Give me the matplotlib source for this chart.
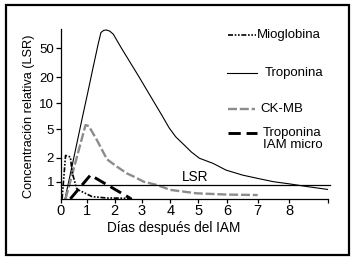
import numpy as np
import matplotlib
matplotlib.use("Agg")
import matplotlib.pyplot as plt
from matplotlib.lines import Line2D
from matplotlib.patches import Rectangle

plt.rcParams['font.family'] = ['Liberation Sans', 'DejaVu Sans']

# ---------------- data ----------------
mio_days = [0.06, 0.19, 0.37, 0.44, 0.60, 0.67, 1.18, 1.71, 2.70]
mio_vals = [0.61, 2.15, 2.05, 1.30, 0.83, 0.79, 0.65, 0.625, 0.62]

trop_days = [0.17, 0.50, 0.80, 1.00, 1.20, 1.40, 1.50, 1.60, 1.70, 1.82, 1.95,
             2.25, 2.90, 3.45, 3.70, 3.96, 4.20, 4.50, 4.75, 5.03, 5.50, 5.95,
             6.50, 7.00, 7.50, 8.00, 8.60, 9.22]
trop_vals = [0.61, 2.0, 6.4, 12.3, 25.5, 57, 82, 88, 89, 86, 78,
             50, 20, 10, 7.3, 5.2, 3.9, 3.0, 2.4, 1.97, 1.70, 1.4,
             1.21, 1.1, 1.0, 0.94, 0.865, 0.80]

ck_days = [0.19, 0.94, 1.06, 1.36, 1.72, 2.09, 2.45, 2.70, 3.06, 3.53, 4.00,
           4.94, 5.98, 7.00]
ck_vals = [0.61, 5.6, 5.45, 3.5, 1.91, 1.54, 1.27, 1.16, 1.0, 0.91, 0.79,
           0.715, 0.69, 0.68]

micro_days = [0.37, 1.12, 2.57]
micro_vals = [0.61, 1.21, 0.62]

lsr_value = 0.91

x_tick_values = [0, 1, 2, 3, 4, 5, 6, 7, 8]
x_tick_labels = ['0', '1', '2', '3', '4', '5', '6', '7', '8']
y_tick_values = [1, 2, 5, 10, 20, 50]
y_tick_labels = ['1', '2', '5', '10', '20', '50']

# ---------------- hand-drawn axis spacing (layout) ----------------
x_tick_pos = [0, 26.7, 54.3, 81.7, 110, 138.3, 167.3, 197.7, 229.3]
y_tick_pos = [0, 24, 52.4, 78.4, 104.4, 133.4]


def piecewise(ki, ko):
    ki = np.asarray(ki, float)
    ko = np.asarray(ko, float)
    s0 = (ko[1] - ko[0]) / (ki[1] - ki[0])
    s1 = (ko[-1] - ko[-2]) / (ki[-1] - ki[-2])

    def f(v):
        v = np.asarray(v, float)
        out = np.interp(v, ki, ko)
        out = np.where(v < ki[0], ko[0] + (v - ki[0]) * s0, out)
        out = np.where(v > ki[-1], ko[-1] + (v - ki[-1]) * s1, out)
        return out
    return f


xf = piecewise(x_tick_values, x_tick_pos)
xi = piecewise(x_tick_pos, x_tick_values)
ylog = np.log10(y_tick_values)
yf_ = piecewise(ylog, y_tick_pos)
yi_ = piecewise(y_tick_pos, ylog)


def yf(v):
    return yf_(np.log10(np.maximum(np.asarray(v, float), 1e-12)))


def yi(p):
    return 10 ** yi_(p)


W, H = 353, 259
fig = plt.figure(figsize=(W / 100, H / 100), dpi=100)
fig.patch.set_facecolor('white')

L, R, T, B = 60.5, 327.7, 29.3, 199.0
ax = fig.add_axes([L / W, 1 - B / H, (R - L) / W, (B - T) / H])
ax.set_xscale('function', functions=(xf, xi))
ax.set_yscale('function', functions=(yf, yi))
ax.set_xlim(0, 9.22)
ax.set_ylim(0.607, 91)

# curves
ax.plot(trop_days, trop_vals, color='black', lw=0.8, solid_joinstyle='round')
ln_ck, = ax.plot(ck_days, ck_vals, color='#8c8c8c', lw=1.7)
ln_ck.set_dashes((3.8, 1.2))
ln_mio, = ax.plot(mio_days, mio_vals, color='black', lw=1.2)
ln_mio.set_dashes((3, 1, 1, 1, 1, 1))
ln_mi, = ax.plot(micro_days, micro_vals, color='black', lw=2.1)
ln_mi.set_dashes((4.2, 2.0))

ax.axhline(lsr_value, color='black', lw=0.9, xmax=1.01, clip_on=False)
ax.annotate('LSR', xy=(4.87, lsr_value), xytext=(0, 0.5),
            textcoords='offset points', ha='center', va='bottom', fontsize=9.8)

# axes styling
for s in ['top', 'right']:
    ax.spines[s].set_visible(False)
for s in ['left', 'bottom']:
    ax.spines[s].set_linewidth(0.9)
ax.set_xticks(x_tick_values + [9.22])
ax.set_xticklabels(x_tick_labels + [''])
ax.set_yticks(y_tick_values)
ax.set_yticklabels(y_tick_labels)
ax.minorticks_off()
ax.tick_params(axis='x', length=3, width=0.9, pad=0.5, labelsize=10.5)
ax.tick_params(axis='y', length=3.6, width=0.9, pad=1, labelsize=9.5)
for t in ax.get_xticklabels():
    t.set_family(['Liberation Sans Narrow', 'Liberation Sans', 'DejaVu Sans'])

ax.set_xlabel('Días después del IAM', fontsize=9.8, va='center')
ax.xaxis.set_label_coords((173.5 - L) / (R - L), (B - 227.7) / (B - T))
ax.set_ylabel('Concentración relativa (LSR)', fontsize=9.2, va='center')
ax.yaxis.set_label_coords((29 - L) / (R - L), (B - 116) / (B - T))


# legend drawn in figure pixels
def fx(x):
    return x / W


def fy(y):
    return 1 - y / H


def handle(y, x0, x1, **kw):
    dashes = kw.pop('dashes', None)
    ln = Line2D([fx(x0), fx(x1)], [fy(y), fy(y)], transform=fig.transFigure, **kw)
    if dashes:
        ln.set_dashes(dashes)
    fig.add_artist(ln)


LFS = 9.5
handle(35, 228, 256, color='black', lw=1.2, dashes=(3, 1, 1, 1, 1, 1))
fig.text(fx(257), fy(35), 'Mioglobina', fontsize=LFS, va='center', ha='left')
handle(73, 227, 257, color='black', lw=0.8)
fig.text(fx(265), fy(73), 'Troponina', fontsize=LFS, va='center', ha='left')
handle(109, 228, 255, color='#8c8c8c', lw=1.7, dashes=(3.8, 1.2))
fig.text(fx(260), fy(109), 'CK-MB', fontsize=LFS, va='center', ha='left')
handle(133, 228, 257, color='black', lw=2.1, dashes=(4.2, 2.0))
fig.text(fx(263), fy(133), 'Troponina', fontsize=LFS, va='center', ha='left')
fig.text(fx(263), fy(145.5), 'IAM micro', fontsize=LFS, va='center', ha='left')

# outer frame
fig.add_artist(Rectangle((fx(6), fy(255)), fx(349) - fx(6), fy(5) - fy(255),
                         transform=fig.transFigure, fill=False,
                         edgecolor='black', lw=1.6))

fig.savefig('out.png', dpi=100, facecolor='white')
